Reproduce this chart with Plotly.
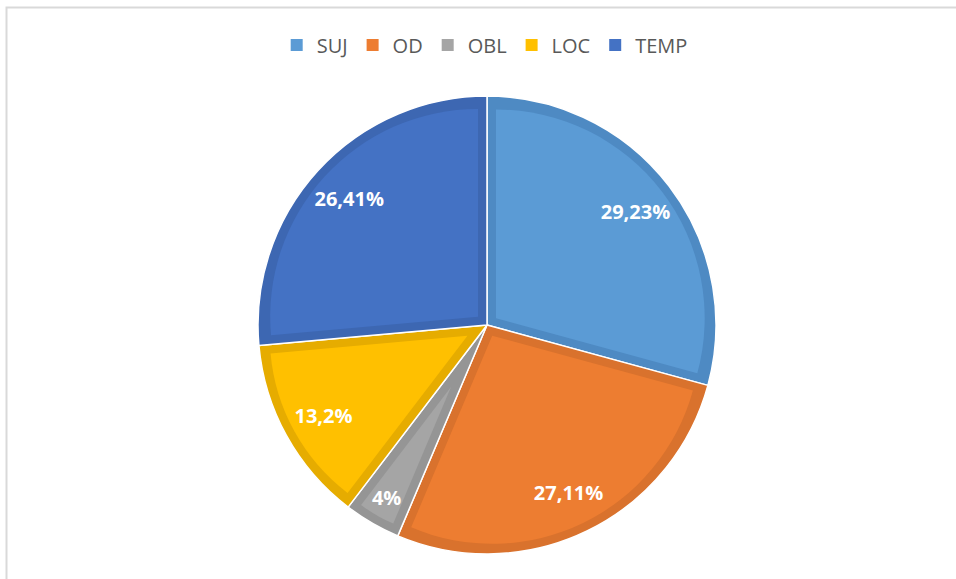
import math
import plotly.graph_objects as go

categories = ["SUJ", "OD", "OBL", "LOC", "TEMP"]
values = [29.23, 27.11, 4, 13.2, 26.41]
fill_colors = ["#5B9BD5", "#ED7D31", "#A5A5A5", "#FFC000", "#4472C4"]
edge_colors = ["#4E8AC3", "#D9722D", "#959595", "#E6AC00", "#3D67B2"]

text_labels = [f"{v:g}".replace(".", ",") + "%" for v in values]

W, H = 956, 579
cx, cy, R = 487, 325, 229   # pie centre and outer radius in px
band = 9                     # inner border band of each slice, px

def domain(rad):
    return dict(x=[(cx - rad) / W, (cx + rad) / W],
                y=[1 - (cy + rad) / H, 1 - (cy - rad) / H])

common = dict(labels=categories, values=values, sort=False,
              direction="clockwise", rotation=0, hoverinfo="skip")
clear = ["rgba(0,0,0,0)"] * len(values)

fig = go.Figure()

# legend provider (tiny, hidden beneath the pie)
fig.add_trace(go.Pie(**common, textinfo="none",
                     marker=dict(colors=fill_colors, line=dict(width=0)),
                     domain=domain(0.5), showlegend=True))

# full pie in the darker border shades, with thin white separators
fig.add_trace(go.Pie(**common, textinfo="none",
                     marker=dict(colors=edge_colors, line=dict(color="white", width=1.5)),
                     domain=domain(R), showlegend=False))

# inset fill of each slice: same slice pulled out along its bisector so that its
# straight edges sit `band` px inside the darker border
total = sum(values)
for i, v in enumerate(values):
    half = math.pi * v / total
    shift = band / math.sin(half)
    r_in = R - band - shift
    pulls = [0] * len(values)
    pulls[i] = shift / r_in
    cols = list(clear)
    cols[i] = fill_colors[i]
    fig.add_trace(go.Pie(**common, textinfo="none", pull=pulls,
                         marker=dict(colors=cols, line=dict(width=0)),
                         domain=domain(R - band), showlegend=False))

# transparent ring used only to place the percentage labels
fig.add_trace(go.Pie(
    **common,
    text=text_labels,
    texttemplate="%{text}",
    textposition="inside",
    insidetextorientation="horizontal",
    textfont=dict(family="Open Sans, Noto Sans, sans-serif", size=20, color="white", weight="bold"),
    hole=0.66,
    marker=dict(colors=clear, line=dict(width=0)),
    domain=domain(R - 4),
    showlegend=False,
))

fig.update_layout(
    width=W, height=H,
    margin=dict(l=0, r=0, t=0, b=0),
    paper_bgcolor="white",
    plot_bgcolor="white",
    uniformtext=dict(minsize=20, mode="show"),
    showlegend=True,
    legend=dict(
        orientation="h",
        x=0.507, xanchor="center",
        y=1 - 45 / H, yanchor="middle",
        font=dict(family="Open Sans, Noto Sans, sans-serif", size=20, color="#595959"),
        itemwidth=30,
        traceorder="normal",
    ),
    shapes=[dict(
        type="rect", xref="paper", yref="paper",
        x0=6.5 / W, x1=1.05, y0=-0.05, y1=1 - 7.5 / H,
        line=dict(color="#D9D9D9", width=2),
        fillcolor="rgba(0,0,0,0)",
        layer="below",
    )],
)

fig.write_html("out.html", config={"displayModeBar": False},
               post_script="document.body.style.margin='0';")
